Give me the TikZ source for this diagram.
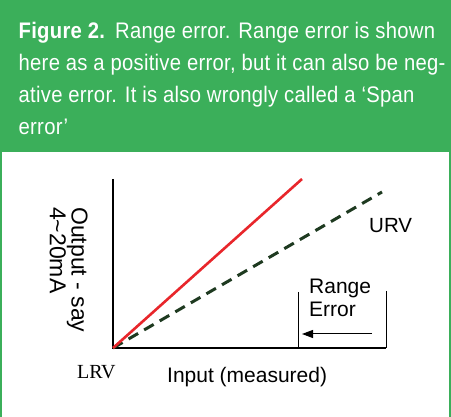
\documentclass[tikz,border=0pt]{standalone}
\usepackage{fontspec}
\setmainfont{Liberation Sans}
\newfontfamily\capfont[FakeStretch=0.9,LetterSpace=1.2]{Liberation Sans}
\newfontfamily\serifrv{Liberation Serif}
\usetikzlibrary{arrows.meta}
\definecolor{hdrgreen}{HTML}{3BAF5A}
\definecolor{redline}{HTML}{E8262B}
\definecolor{dashgreen}{HTML}{1E3A20}
\begin{document}
\begin{tikzpicture}[x=1pt,y=-1pt,
  captxt/.style={inner sep=0pt, anchor=base west, text=white, font=\capfont\fontsize{22.5}{32}\selectfont},
  lbl/.style={inner sep=0pt, anchor=base west, font=\fontsize{21}{23}\selectfont},
  axisln/.style={line width=1.2pt, black},
  redln/.style={line width=2.6pt, redline},
  dashln/.style={line width=3pt, dashgreen, dash pattern=on 11pt off 7pt},
  markln/.style={line width=1pt, black},
  arrowln/.style={line width=1pt, black, -{Triangle[length=11pt,width=8pt]}}]
\fill[hdrgreen] (0,0) rectangle (451,417);
\fill[white] (2,152) rectangle (449,417);
\useasboundingbox (0,0) rectangle (451,417);
% caption
\node[captxt] (cap1) at (18.5,38.3) {\textbf{Figure 2.}\hspace{10pt}Range error. Range error is shown};
\node[captxt] (cap2) at (18.5,70.6) {here as a positive error, but it can also be neg-};
\node[captxt] (cap3) at (18.5,102.7) {ative error. It is also wrongly called a ‘Span};
\node[captxt] (cap4) at (18.5,134.5) {error’};
% axes
\coordinate (O) at (113,348);
\coordinate (Ytop) at (113,179);
\coordinate (Xend) at (386,348);
\coordinate (Rend) at (302,179);
\coordinate (Gend) at (382,192);
\coordinate (M1top) at (298,292);
\coordinate (M1bot) at (298,348);
\coordinate (M2top) at (386,291);
\coordinate (Astart) at (372,334);
\coordinate (Aend) at (302,334);
\draw[axisln] (Ytop) -- (O) -- (Xend);
\draw[dashln] (O) -- (Gend);
\draw[redln] (O) -- (Rend);
\draw[markln] (M1top) -- (M1bot);
\draw[markln] (M2top) -- (Xend);
\draw[arrowln] (Astart) -- (Aend);
% labels
\node[lbl, font=\fontsize{20.5}{23}\selectfont] (urv) at (369,232.5) {URV};
\node[lbl, align=left, anchor=north west] (rng) at (309,279) {Range\\Error};
\node[lbl] (inp) at (167,382.7) {Input (measured)};
\node[lbl, font=\serifrv\fontsize{20}{22}\selectfont] (lrv) at (77,379) {LRV};
\node[inner sep=0pt, rotate=-90, anchor=north west, align=left, font=\fontsize{23}{20}\selectfont] (ylab) at (88,207) {Output - say\\4\textasciitilde 20mA};
\end{tikzpicture}
\end{document}
